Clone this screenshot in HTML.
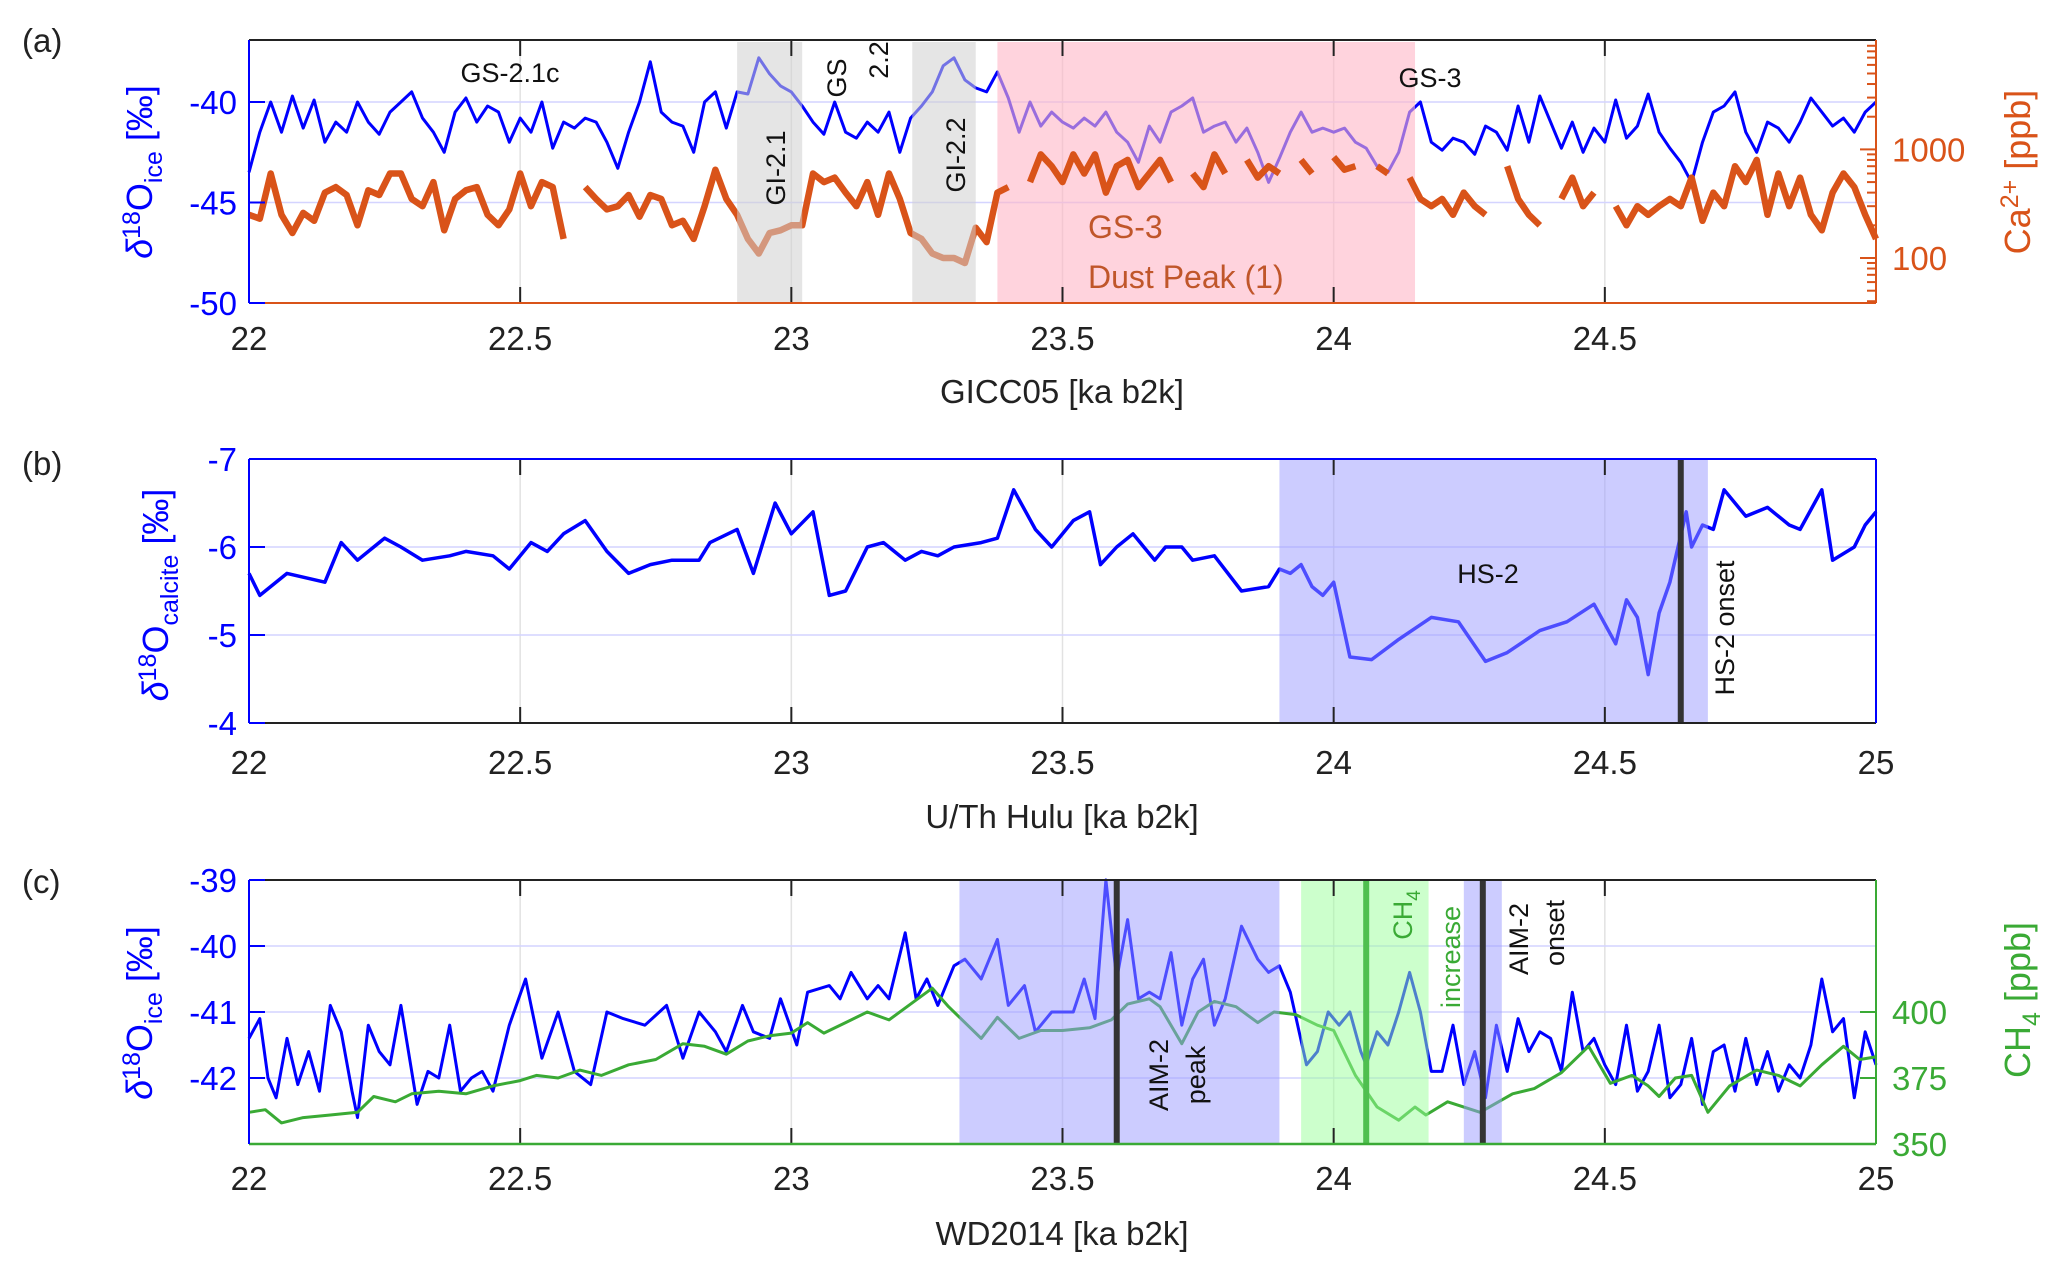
<!DOCTYPE html>
<html><head><meta charset="utf-8"><style>
html,body{margin:0;padding:0;background:#fff;}
svg{display:block;font-family:"Liberation Sans",Arial,sans-serif;}
</style></head><body>
<svg id="fig" width="2067" height="1277" viewBox="0 0 2067 1277" xmlns="http://www.w3.org/2000/svg"></svg>
<script>
// ---------- Panel (a) data ----------
const aX = [22.00,22.02,22.04,22.06,22.08,22.10,22.12,22.14,22.16,22.18,22.20,22.22,22.24,22.26,22.28,22.30,22.32,22.34,22.36,22.38,22.40,22.42,22.44,22.46,22.48,22.50,22.52,22.54,22.56,22.58,22.60,22.62,22.64,22.66,22.68,22.70,22.72,22.74,22.76,22.78,22.80,22.82,22.84,22.86,22.88,22.90,22.92,22.94,22.96,22.98,23.00,23.02,23.04,23.06,23.08,23.10,23.12,23.14,23.16,23.18,23.20,23.22,23.24,23.26,23.28,23.30,23.32,23.34,23.36,23.38,23.40,23.42,23.44,23.46,23.48,23.50,23.52,23.54,23.56,23.58,23.60,23.62,23.64,23.66,23.68,23.70,23.72,23.74,23.76,23.78,23.80,23.82,23.84,23.86,23.88,23.90,23.92,23.94,23.96,23.98,24.00,24.02,24.04,24.06,24.08,24.10,24.12,24.14,24.16,24.18,24.20,24.22,24.24,24.26,24.28,24.30,24.32,24.34,24.36,24.38,24.40,24.42,24.44,24.46,24.48,24.50,24.52,24.54,24.56,24.58,24.60,24.62,24.64,24.66,24.68,24.70,24.72,24.74,24.76,24.78,24.80,24.82,24.84,24.86,24.88,24.90,24.92,24.94,24.96,24.98,25.00];
const aIce = [-43.5,-41.5,-40.0,-41.5,-39.7,-41.3,-39.9,-42.0,-41.0,-41.5,-40.0,-41.0,-41.6,-40.5,-40.0,-39.5,-40.8,-41.5,-42.5,-40.5,-39.8,-41.0,-40.2,-40.5,-42.0,-40.8,-41.5,-40.0,-42.3,-41.0,-41.3,-40.8,-41.0,-42.0,-43.3,-41.5,-40.0,-38.0,-40.5,-41.0,-41.2,-42.5,-40.0,-39.5,-41.3,-39.5,-39.6,-37.8,-38.6,-39.2,-39.5,-40.2,-41.0,-41.6,-40.0,-41.5,-41.8,-41.0,-41.5,-40.5,-42.5,-40.8,-40.2,-39.5,-38.2,-37.8,-38.9,-39.3,-39.5,-38.5,-39.8,-41.5,-40.0,-41.2,-40.5,-41.0,-41.3,-40.8,-41.2,-40.5,-41.5,-42.0,-43.0,-41.2,-42.0,-40.5,-40.2,-39.8,-41.5,-41.2,-41.0,-42.0,-41.3,-42.5,-44.0,-42.8,-41.5,-40.5,-41.5,-41.3,-41.5,-41.3,-42.0,-42.3,-43.2,-43.5,-42.5,-40.5,-40.0,-42.0,-42.4,-41.8,-42.0,-42.6,-41.2,-41.5,-42.4,-40.2,-42.0,-39.7,-41.0,-42.3,-41.0,-42.5,-41.3,-42.0,-39.9,-41.8,-41.2,-39.6,-41.5,-42.3,-43.0,-44.0,-42.0,-40.5,-40.2,-39.5,-41.5,-42.5,-41.0,-41.3,-42.0,-41.0,-39.8,-40.5,-41.2,-40.8,-41.5,-40.5,-40.0];
const aCa = [250,230,600,250,170,260,220,400,450,380,200,420,380,600,600,350,300,500,180,350,420,450,250,200,280,600,300,500,450,150,null,450,350,280,300,380,240,380,350,200,220,150,300,650,350,250,150,110,170,180,200,200,600,500,550,400,300,500,250,600,350,170,150,110,100,100,90,190,140,400,450,null,500,900,700,500,900,600,900,400,700,800,450,600,800,500,null,600,450,900,600,null,800,550,700,600,null,800,600,null,850,650,700,null,700,600,null,550,350,300,350,250,400,300,250,null,700,350,250,200,null,350,550,300,400,null,300,200,300,250,300,350,300,550,220,400,300,700,500,800,250,600,300,550,250,180,400,600,450,250,150];
// ---------- Panel (b) data ----------
const bX = [22.00,22.02,22.07,22.14,22.17,22.20,22.25,22.28,22.32,22.37,22.40,22.45,22.48,22.52,22.55,22.58,22.62,22.66,22.70,22.74,22.78,22.83,22.85,22.90,22.93,22.97,23.00,23.04,23.07,23.10,23.14,23.17,23.21,23.24,23.27,23.30,23.35,23.38,23.41,23.45,23.48,23.52,23.55,23.57,23.60,23.63,23.67,23.69,23.72,23.74,23.78,23.83,23.88,23.90,23.92,23.94,23.96,23.98,24.00,24.03,24.07,24.12,24.18,24.23,24.28,24.32,24.38,24.43,24.48,24.52,24.54,24.56,24.58,24.60,24.62,24.65,24.66,24.68,24.70,24.72,24.76,24.80,24.84,24.86,24.90,24.92,24.96,24.98,25.00];
const bHulu = [-5.7,-5.45,-5.7,-5.6,-6.05,-5.85,-6.1,-6.0,-5.85,-5.9,-5.95,-5.9,-5.75,-6.05,-5.95,-6.15,-6.3,-5.95,-5.7,-5.8,-5.85,-5.85,-6.05,-6.2,-5.7,-6.5,-6.15,-6.4,-5.45,-5.5,-6.0,-6.05,-5.85,-5.95,-5.9,-6.0,-6.05,-6.1,-6.65,-6.2,-6.0,-6.3,-6.4,-5.8,-6.0,-6.15,-5.85,-6.0,-6.0,-5.85,-5.9,-5.5,-5.55,-5.75,-5.7,-5.8,-5.55,-5.45,-5.6,-4.75,-4.72,-4.95,-5.2,-5.15,-4.7,-4.8,-5.05,-5.15,-5.35,-4.9,-5.4,-5.2,-4.55,-5.25,-5.6,-6.4,-6.0,-6.25,-6.2,-6.65,-6.35,-6.45,-6.25,-6.2,-6.65,-5.85,-6.0,-6.25,-6.4];
// ---------- Panel (c) data ----------
const cX = [22.00,22.02,22.035,22.05,22.07,22.09,22.11,22.13,22.15,22.17,22.19,22.20,22.22,22.24,22.26,22.28,22.31,22.33,22.35,22.37,22.39,22.41,22.43,22.45,22.48,22.51,22.54,22.57,22.60,22.63,22.66,22.69,22.73,22.77,22.80,22.83,22.86,22.88,22.91,22.93,22.96,22.98,23.01,23.03,23.07,23.09,23.11,23.14,23.16,23.18,23.21,23.23,23.25,23.27,23.30,23.32,23.35,23.38,23.40,23.43,23.45,23.48,23.52,23.54,23.56,23.58,23.60,23.62,23.64,23.66,23.68,23.70,23.72,23.74,23.76,23.78,23.80,23.83,23.86,23.88,23.90,23.92,23.95,23.97,23.99,24.01,24.03,24.05,24.06,24.08,24.10,24.12,24.14,24.16,24.18,24.20,24.22,24.24,24.26,24.28,24.30,24.32,24.34,24.36,24.38,24.40,24.42,24.44,24.46,24.48,24.50,24.52,24.54,24.56,24.58,24.60,24.62,24.64,24.66,24.68,24.70,24.72,24.74,24.76,24.78,24.80,24.82,24.84,24.86,24.88,24.90,24.92,24.94,24.96,24.98,25.00];
const cIce = [-41.4,-41.1,-42.0,-42.3,-41.4,-42.1,-41.6,-42.2,-40.9,-41.3,-42.2,-42.6,-41.2,-41.6,-41.8,-40.9,-42.4,-41.9,-42.0,-41.2,-42.2,-42.0,-41.9,-42.2,-41.2,-40.5,-41.7,-41.0,-41.9,-42.1,-41.0,-41.1,-41.2,-40.9,-41.7,-41.0,-41.3,-41.6,-40.9,-41.3,-41.4,-40.8,-41.5,-40.7,-40.6,-40.8,-40.4,-40.8,-40.6,-40.8,-39.8,-40.8,-40.5,-40.9,-40.3,-40.2,-40.5,-39.9,-40.9,-40.6,-41.3,-41.0,-41.0,-40.5,-41.1,-39.0,-40.5,-39.6,-40.8,-40.7,-40.8,-40.1,-41.2,-40.5,-40.2,-41.2,-40.8,-39.7,-40.2,-40.4,-40.3,-40.7,-41.8,-41.6,-41.0,-41.2,-41.0,-41.6,-41.8,-41.3,-41.5,-41.0,-40.4,-41.0,-41.9,-41.9,-41.2,-42.1,-41.6,-42.3,-41.2,-41.9,-41.1,-41.6,-41.3,-41.4,-41.9,-40.7,-41.6,-41.4,-41.8,-42.1,-41.2,-42.2,-41.9,-41.2,-42.3,-42.1,-41.4,-42.4,-41.6,-41.5,-42.2,-41.4,-42.1,-41.6,-42.2,-41.8,-42.0,-41.5,-40.5,-41.3,-41.1,-42.3,-41.3,-41.8];
const chX = [22.00,22.03,22.06,22.10,22.15,22.20,22.23,22.27,22.30,22.35,22.40,22.45,22.50,22.53,22.57,22.61,22.65,22.70,22.75,22.80,22.84,22.88,22.92,22.96,23.00,23.03,23.06,23.10,23.14,23.18,23.22,23.26,23.29,23.32,23.35,23.38,23.42,23.46,23.50,23.55,23.59,23.62,23.66,23.68,23.72,23.75,23.78,23.82,23.86,23.89,23.93,23.97,24.00,24.04,24.08,24.12,24.15,24.17,24.21,24.27,24.33,24.37,24.42,24.47,24.51,24.55,24.58,24.60,24.63,24.66,24.69,24.73,24.78,24.82,24.86,24.90,24.94,24.97,25.00];
const chCH4 = [362,363,358,360,361,362,368,366,369,370,369,372,374,376,375,378,376,380,382,388,387,384,389,391,392,396,392,396,400,397,403,409,402,396,390,398,390,393,393,394,397,403,405,402,388,400,404,402,396,400,399,395,393,376,364,359,364,361,366,362,369,371,377,387,373,376,372,368,375,376,362,372,378,376,372,380,387,382,383];
const xTicks = [22,22.5,23,23.5,24,24.5];
const xTickLabels = ["22","22.5","23","23.5","24","24.5"];
const xTicksBC = [22,22.5,23,23.5,24,24.5,25];
const xTickLabelsBC = ["22","22.5","23","23.5","24","24.5","25"];
const aYTicks = [-50,-45,-40];
const aCaTicks = [100,1000];
const bYTicks = [-7,-6,-5,-4];
const cYTicks = [-42,-41,-40,-39];
const cCHTicks = [350,375,400];

const NS="http://www.w3.org/2000/svg";
const svg=document.getElementById('fig');
function el(tag,attrs,parent){const e=document.createElementNS(NS,tag);for(const k in attrs)e.setAttribute(k,attrs[k]);(parent||svg).appendChild(e);return e;}
const L=249,R=1876;
const xs=v=>L+(v-22)/3*(R-L);
function lin(d0,d1,p0,p1){return v=>p0+(v-d0)/(d1-d0)*(p1-p0);}
const BLUE="#0000ff",ORANGE="#d95319",GREEN="#3aaa35";

function path(xsArr,ysArr,fx,fy,stroke,w,name,parent){
  let d="",pen=false;
  for(let i=0;i<xsArr.length;i++){const v=ysArr[i];if(v===null||v===undefined){pen=false;continue;}
    d+=(pen?"L":"M")+fx(xsArr[i]).toFixed(1)+","+fy(v).toFixed(1);pen=true;}
  const p=el('path',{d:d,fill:'none',stroke:stroke,'stroke-width':w,'stroke-linejoin':'round'},parent);
  
  
  return p;
}
function txt(x,y,s,attrs,name){const t=el('text',Object.assign({x:x,y:y},attrs||{}));t.textContent=s;
  
  
  return t;}
function rect(x0,x1,top,bot,fill,op,name){const r=el('rect',{x:xs(x0),y:top,width:xs(x1)-xs(x0),height:bot-top,fill:fill,'fill-opacity':op});
  
  
  return r;}
function grid(top,bot,ticks,fy,ticksX){
  ticksX.forEach(t=>{const l=el('line',{x1:xs(t),x2:xs(t),y1:top,y2:bot,stroke:'#e2e2e2','stroke-width':1.5});
    
    });
  ticks.forEach(t=>{const y=fy(t);const l=el('line',{x1:L,x2:R,y1:y,y2:y,stroke:'#d4d4ff','stroke-width':1.5});
    
    });
}
function xTickMarks(top,bot,ticks){ticks.forEach(t=>{
  el('line',{x1:xs(t),x2:xs(t),y1:bot,y2:bot-16,stroke:'#222','stroke-width':2});
  el('line',{x1:xs(t),x2:xs(t),y1:top,y2:top+16,stroke:'#222','stroke-width':2});});}
function xLabels(y,ticks,labels){ticks.forEach((t,i)=>{txt(xs(t),y,labels[i],{'font-size':33,'text-anchor':'middle',fill:'#222'},'x-tick-label');});}
const lab={'font-size':33,fill:'#222','text-anchor':'middle'};

// ======== Panel (a) ========
const aT=40,aB=303;
const ay=lin(-50,-40,aB,102);
const caY=v=>258-(Math.log10(v)-2)*108.6;
grid(aT,aB,aYTicks,ay,xTicks);
path(aX,aIce,xs,ay,BLUE,3,'ice-d18o-line');
rect(23.38,24.15,aT+2,aB,'#ffb6c6',0.6,'gs-3-dust-peak-shade');
path(aX,aCa,xs,caY,ORANGE,6.5,'calcium-line');
rect(22.90,23.02,aT+2,aB,'#cfcfcf',0.55,'gi-2-1-shade');
rect(23.223,23.34,aT+2,aB,'#cfcfcf',0.55,'gi-2-2-shade');
xTickMarks(aT,aB,xTicks);
el('line',{x1:L,x2:R,y1:aT,y2:aT,stroke:'#222','stroke-width':2});
el('line',{x1:L,x2:R,y1:aB,y2:aB,stroke:ORANGE,'stroke-width':2});
el('line',{x1:L,x2:L,y1:aT,y2:aB,stroke:BLUE,'stroke-width':2});
el('line',{x1:R,x2:R,y1:aT,y2:aB,stroke:ORANGE,'stroke-width':2});
aYTicks.forEach(t=>{el('line',{x1:L,x2:L+16,y1:ay(t),y2:ay(t),stroke:BLUE,'stroke-width':2});
  txt(L-12,ay(t)+12,String(t),{'font-size':33,fill:BLUE,'text-anchor':'end'},'y-tick-label');});
for(let dec=1;dec<=3;dec++){for(let m=1;m<=9;m++){const v=m*Math.pow(10,dec);const y=caY(v);if(y<aT||y>aB)continue;
  el('line',{x1:R,x2:R-(m===1?16:9),y1:y,y2:y,stroke:ORANGE,'stroke-width':2});}}
aCaTicks.forEach(t=>{txt(R+16,caY(t)+12,String(t),{'font-size':33,fill:ORANGE},'right-y-tick-label');});
xLabels(350,xTicks,xTickLabels);
txt(1062,403,'GICC05 [ka b2k]',lab,'x-axis-title-a');
txt(22,52,'(a)',{'font-size':33,fill:'#222'},'panel-a-label');
{const t=el('text',{transform:'translate(152,172) rotate(-90)','font-size':36,fill:BLUE,'text-anchor':'middle'});
 
 
 t.innerHTML='<tspan font-style="italic">δ</tspan><tspan dy="-12" font-size="25">18</tspan><tspan dy="12">O</tspan><tspan dy="10" font-size="25">ice</tspan><tspan dy="-10"> [‰]</tspan>';}
{const t=el('text',{transform:'translate(2030,172) rotate(-90)','font-size':36,fill:ORANGE,'text-anchor':'middle'});
 
 
 t.innerHTML='Ca<tspan dy="-12" font-size="25">2+</tspan><tspan dy="12"> [ppb]</tspan>';}
const sm={'font-size':27,fill:'#111','text-anchor':'middle'};
txt(510,82,'GS-2.1c',sm,'gs-2-1c-label');
txt(1430,87,'GS-3',sm,'gs-3-label');
txt(0,0,'GI-2.1',Object.assign({transform:'translate(785,168) rotate(-90)'},sm),'gi-2-1-label');
txt(0,0,'GS',Object.assign({transform:'translate(846,78) rotate(-90)'},sm),'gs-2-2-label-a');
txt(0,0,'2.2',Object.assign({transform:'translate(888,60) rotate(-90)'},sm),'gs-2-2-label-b');
txt(0,0,'GI-2.2',Object.assign({transform:'translate(965,155) rotate(-90)'},sm),'gi-2-2-label');
txt(1088,238,'GS-3',{'font-size':32,fill:'#c0562a'},'gs-3-dust-label');
txt(1088,288,'Dust Peak (1)',{'font-size':32,fill:'#c0562a'},'dust-peak-label');

// ======== Panel (b) ========
const bT=459,bB=723;
const by=lin(-7,-4,bT,bB);
grid(bT,bB,bYTicks,by,xTicksBC);
path(bX,bHulu,xs,by,BLUE,3.5,'hulu-calcite-line');
rect(23.90,24.69,bT,bB,'#9999ff',0.5,'hs-2-shade');
{const l=el('line',{x1:xs(24.64),x2:xs(24.64),y1:bT,y2:bB,stroke:'#333','stroke-width':6});
 
 }
xTickMarks(bT,bB,xTicksBC);
el('line',{x1:L,x2:R,y1:bT,y2:bT,stroke:BLUE,'stroke-width':2});
el('line',{x1:L,x2:R,y1:bB,y2:bB,stroke:'#222','stroke-width':2});
el('line',{x1:L,x2:L,y1:bT,y2:bB,stroke:BLUE,'stroke-width':2});
el('line',{x1:R,x2:R,y1:bT,y2:bB,stroke:BLUE,'stroke-width':2});
bYTicks.forEach(t=>{el('line',{x1:L,x2:L+16,y1:by(t),y2:by(t),stroke:BLUE,'stroke-width':2});
  txt(L-12,by(t)+12,String(t),{'font-size':33,fill:BLUE,'text-anchor':'end'},'y-tick-label');});
xLabels(774,xTicksBC,xTickLabelsBC);
txt(1062,828,'U/Th Hulu [ka b2k]',lab,'x-axis-title-b');
txt(22,475,'(b)',{'font-size':33,fill:'#222'},'panel-b-label');
{const t=el('text',{transform:'translate(168,595) rotate(-90)','font-size':36,fill:BLUE,'text-anchor':'middle'});
 
 
 t.innerHTML='<tspan font-style="italic">δ</tspan><tspan dy="-12" font-size="25">18</tspan><tspan dy="12">O</tspan><tspan dy="10" font-size="25">calcite</tspan><tspan dy="-10"> [‰]</tspan>';}
txt(1488,583,'HS-2',sm,'hs-2-label');
txt(0,0,'HS-2 onset',Object.assign({transform:'translate(1734,628) rotate(-90)'},sm),'hs-2-onset-label');

// ======== Panel (c) ========
const cT=880,cB=1144;
const cy=lin(-43,-39,cB,cT);
const chy=lin(350,450,cB,cT);
grid(cT,cB,cYTicks,cy,xTicksBC);
path(cX,cIce,xs,cy,BLUE,3,'wd-ice-d18o-line');
path(chX,chCH4,xs,chy,GREEN,3,'ch4-line');
rect(23.31,23.90,cT,cB,'#9999ff',0.5,'aim-2-shade');
rect(23.94,24.175,cT,cB,'#99ff99',0.5,'ch4-increase-shade');
rect(24.24,24.31,cT,cB,'#9999ff',0.5,'aim-2-onset-shade');
[[23.60,'#333','aim-2-peak-line'],[24.06,'#4fbf4f','ch4-increase-line'],[24.275,'#333','aim-2-onset-line']].forEach(a=>{
  const l=el('line',{x1:xs(a[0]),x2:xs(a[0]),y1:cT,y2:cB,stroke:a[1],'stroke-width':6});
  
  });
xTickMarks(cT,cB,xTicksBC);
el('line',{x1:L,x2:R,y1:cT,y2:cT,stroke:'#222','stroke-width':2});
el('line',{x1:L,x2:R,y1:cB,y2:cB,stroke:GREEN,'stroke-width':2.5});
el('line',{x1:L,x2:L,y1:cT,y2:cB,stroke:BLUE,'stroke-width':2});
el('line',{x1:R,x2:R,y1:cT,y2:cB,stroke:GREEN,'stroke-width':2});
cYTicks.forEach(t=>{el('line',{x1:L,x2:L+16,y1:cy(t),y2:cy(t),stroke:BLUE,'stroke-width':2});
  txt(L-12,cy(t)+12,String(t),{'font-size':33,fill:BLUE,'text-anchor':'end'},'y-tick-label');});
cCHTicks.forEach(t=>{el('line',{x1:R,x2:R-16,y1:chy(t),y2:chy(t),stroke:GREEN,'stroke-width':2});
  txt(R+16,chy(t)+12,String(t),{'font-size':33,fill:GREEN},'right-y-tick-label');});
xLabels(1190,xTicksBC,xTickLabelsBC);
txt(1062,1245,'WD2014 [ka b2k]',lab,'x-axis-title-c');
txt(22,893,'(c)',{'font-size':33,fill:'#222'},'panel-c-label');
{const t=el('text',{transform:'translate(152,1013) rotate(-90)','font-size':36,fill:BLUE,'text-anchor':'middle'});
 
 
 t.innerHTML='<tspan font-style="italic">δ</tspan><tspan dy="-12" font-size="25">18</tspan><tspan dy="12">O</tspan><tspan dy="10" font-size="25">ice</tspan><tspan dy="-10"> [‰]</tspan>';}
{const t=el('text',{transform:'translate(2030,1000) rotate(-90)','font-size':36,fill:GREEN,'text-anchor':'middle'});
 
 
 t.innerHTML='CH<tspan dy="10" font-size="25">4</tspan><tspan dy="-10"> [ppb]</tspan>';}
txt(0,0,'AIM-2',Object.assign({transform:'translate(1168,1075) rotate(-90)'},sm),'aim-2-peak-label-a');
txt(0,0,'peak',Object.assign({transform:'translate(1205,1075) rotate(-90)'},sm),'aim-2-peak-label-b');
{const t=el('text',{transform:'translate(1412,915) rotate(-90)','font-size':27,fill:GREEN,'text-anchor':'middle'});
 
 
 t.innerHTML='CH<tspan dy="8" font-size="19">4</tspan>';}
txt(0,0,'increase',Object.assign({transform:'translate(1460,957) rotate(-90)'},sm,{fill:GREEN}),'increase-label');
txt(0,0,'AIM-2',Object.assign({transform:'translate(1528,939) rotate(-90)'},sm),'aim-2-onset-label-a');
txt(0,0,'onset',Object.assign({transform:'translate(1564,933) rotate(-90)'},sm),'aim-2-onset-label-b');
</script>
</body></html>
